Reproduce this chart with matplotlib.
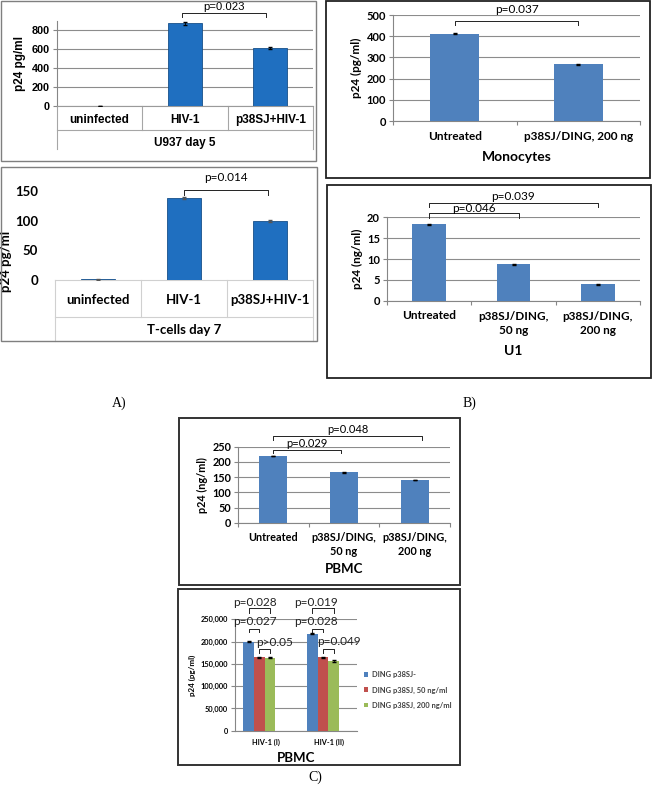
"""
p24 panels: U937 / T-cells (A), monocytes / U1 (B), PBMC (C).
"""

import matplotlib
matplotlib.use("Agg")
import matplotlib.pyplot as plt
from matplotlib.patches import Rectangle
from matplotlib.ticker import FuncFormatter
import numpy as np

W, H = 654, 795

# --- data ---
INFECT_CATS = ["uninfected", "HIV-1", "p38SJ+HIV-1"]
U937_VALS = [3, 870, 612]
U937_ERR = [2, 14, 7]
TCELL_VALS = [1, 138, 99]
TCELL_ERR = [0.5, 1.0, 1.5]

MONO_CATS = ["Untreated", "p38SJ/DING, 200 ng"]
MONO_VALS = [412, 267]
MONO_ERR = [2, 2]

DOSE_CATS = ["Untreated", "p38SJ/DING,\n50 ng", "p38SJ/DING,\n200 ng"]
U1_VALS = [18.3, 8.7, 3.9]
U1_ERR = [0.1, 0.1, 0.1]
PBMC_VALS = [219, 166, 140]
PBMC_ERR = [1.0, 1.0, 1.0]

HIV_CATS = ["HIV-1 (I)", "HIV-1 (II)"]
SERIES = ["DING p38SJ-", "DING p38SJ, 50 ng/ml", "DING p38SJ, 200 ng/ml"]
PBMC_NEG = [200000, 217500]
PBMC_50 = [165000, 165000]
PBMC_200 = [164000, 156500]
PBMC_SER_ERR = [1500, 1500]

DARK_BLUE = "#1f6fc0"
EXCEL_BLUE = "#4f81bd"
EXCEL_RED = "#c0504d"
EXCEL_GREEN = "#9bbb59"
GRID = "#8c8c8c"
ARIAL = "Liberation Sans"
CALIBRI = "Lato"


def px_axes(fig, left, top, right, bottom):
    return fig.add_axes([left / W, 1 - bottom / H, (right - left) / W, (bottom - top) / H])


def box(fig, left, top, right, bottom, color="#333333", lw=1.2):
    fig.add_artist(Rectangle((left / W, 1 - bottom / H), (right - left) / W, (bottom - top) / H,
                             transform=fig.transFigure, fill=False, edgecolor=color, linewidth=lw))


def below(ax, x, dy, text, coords="data", **kw):
    # text centred dy pixels under the x axis
    ax.annotate(text, xy=(x, 0), xycoords=(coords, "axes fraction"),
                xytext=(0, -dy * 0.72), textcoords="offset points",
                ha="center", va="center", annotation_clip=False, **kw)


def bracket(ax, x0, x1, y, drop, label, ly, lx=None, lw=0.7, **kw):
    ax.plot([x0, x0, x1, x1], [y - drop, y, y, y - drop], color="#222222", lw=lw, clip_on=False)
    ax.text((x0 + x1) / 2 if lx is None else lx, ly, label, ha="center", va="center",
            fontweight="normal", clip_on=False, **kw)


def excel_axes(ax, ymax, ystep, grid=True, tick_size=7.5):
    ax.set_ylim(0, ymax)
    ax.set_yticks(np.arange(0, ymax + ystep / 2, ystep))
    for s in ["top", "right"]:
        ax.spines[s].set_visible(False)
    for s in ["left", "bottom"]:
        ax.spines[s].set_color("#868686")
        ax.spines[s].set_linewidth(0.8)
    if grid:
        ax.yaxis.grid(True, color=GRID, linewidth=0.8)
        ax.set_axisbelow(True)
    ax.tick_params(axis="y", length=3, width=0.8, color="#868686", labelsize=tick_size, pad=2)


def main():
    plt.rcParams["font.family"] = [CALIBRI, "DejaVu Sans"]
    plt.rcParams["font.weight"] = "bold"
    plt.rcParams["axes.labelweight"] = "bold"

    fig = plt.figure(figsize=(W / 100, H / 100), dpi=100)
    fig.patch.set_facecolor("white")
    tick_family = {}

    # ---------------- A) U937 ----------------
    box(fig, 1, 1, 316, 161, color="#7f7f7f", lw=1.0)
    ax = px_axes(fig, 57, 20.5, 313, 106)
    tick_family[ax] = ARIAL
    x = np.arange(len(INFECT_CATS))
    ax.bar(x, U937_VALS, 0.4, color=DARK_BLUE, edgecolor="#17508a", linewidth=0.6, zorder=3)
    ax.errorbar(x, U937_VALS, yerr=U937_ERR, fmt="none", ecolor="black", elinewidth=0.6,
                capsize=1.5, zorder=4)
    excel_axes(ax, 900, 200, tick_size=7.8)
    ax.set_yticks([0, 200, 400, 600, 800])
    ax.set_xlim(-0.5, 2.5)
    ax.set_xticks([])
    ax.spines["bottom"].set_color("#9a9a9a")
    tr = ax.get_xaxis_transform()
    for b in [-0.5, 0.5, 1.5, 2.5]:
        low = -0.5 if b in (-0.5, 2.5) else -0.28
        ax.plot([b, b], [0, low], color="#a6a6a6", lw=0.8, transform=tr, clip_on=False)
    ax.plot([-0.5, 2.5], [-0.28, -0.28], color="#a6a6a6", lw=0.8, transform=tr, clip_on=False)
    for i, c in enumerate(INFECT_CATS):
        below(ax, i, 14, c, fontsize=8.5, family=ARIAL)
    below(ax, 0.5, 37, "U937 day 5", coords="axes fraction", fontsize=8.5, family=ARIAL)
    ax.set_ylabel("p24 pg/ml", fontsize=8.5, family=ARIAL, labelpad=4)
    bracket(ax, 0.97, 1.95, 982, 45, "p=0.023", 1045, fontsize=8.2, family=ARIAL)

    # ---------------- A) T-cells ----------------
    box(fig, 1, 167, 317, 341, color="#7f7f7f", lw=1.0)
    ax = px_axes(fig, 55, 185, 313, 280)
    ax.bar(x, TCELL_VALS, 0.4, color=DARK_BLUE, edgecolor="#17508a", linewidth=0.6, zorder=3)
    ax.errorbar(x, TCELL_VALS, yerr=TCELL_ERR, fmt="none", ecolor="#555555", elinewidth=0.6,
                capsize=1.5, zorder=4)
    excel_axes(ax, 160, 50, grid=False, tick_size=9.5)
    ax.set_yticks([0, 50, 100, 150])
    ax.tick_params(axis="y", length=0, pad=12)
    ax.spines["left"].set_visible(False)
    ax.spines["bottom"].set_color("#d0d0d0")
    ax.set_xlim(-0.5, 2.5)
    ax.set_xticks([])
    tr = ax.get_xaxis_transform()
    for b in [-0.5, 0.5, 1.5, 2.5]:
        low = -0.64 if b in (-0.5, 2.5) else -0.39
        ax.plot([b, b], [0, low], color="#d0d0d0", lw=0.8, transform=tr, clip_on=False)
    ax.plot([-0.5, 2.5], [-0.39, -0.39], color="#d0d0d0", lw=0.8, transform=tr, clip_on=False)
    for i, c in enumerate(INFECT_CATS):
        below(ax, i, 20, c, fontsize=9.5)
    below(ax, 0.5, 50, "T-cells day 7", coords="axes fraction", fontsize=9.5)
    ax.set_ylabel("p24 pg/ml", fontsize=9.5, labelpad=6)
    ax.yaxis.set_label_coords(-0.165, 0.2)
    bracket(ax, 1.0, 1.98, 152, 8, "p=0.014", 172, fontsize=8.5)

    # ---------------- B) Monocytes ----------------
    box(fig, 326, 1, 650, 178, color="#222222", lw=1.3)
    ax = px_axes(fig, 393, 15, 640, 121)
    xm = np.arange(len(MONO_CATS))
    ax.bar(xm, MONO_VALS, 0.4, color=EXCEL_BLUE, zorder=3)
    ax.errorbar(xm, MONO_VALS, yerr=MONO_ERR, fmt="none", ecolor="black", elinewidth=0.6,
                capsize=1.5, zorder=4)
    excel_axes(ax, 500, 100, tick_size=8)
    ax.set_xlim(-0.5, 1.5)
    ax.set_xticks([-0.5, 0.5, 1.5])
    ax.set_xticklabels([])
    ax.tick_params(axis="x", length=3, width=0.8, color="#868686")
    for i, c in enumerate(MONO_CATS):
        below(ax, i, 16, c, fontsize=8.5)
    below(ax, 0.5, 36, "Monocytes", coords="axes fraction", fontsize=10)
    ax.set_ylabel("p24 (pg/ml)", fontsize=8.5, labelpad=3)
    bracket(ax, 0.0, 1.0, 473, 20, "p=0.037", 524, fontsize=8.5)

    # ---------------- B) U1 ----------------
    box(fig, 327, 185, 651, 378, color="#222222", lw=1.3)
    ax = px_axes(fig, 387, 217.3, 640, 300.7)
    xd = np.arange(len(DOSE_CATS))
    ax.bar(xd, U1_VALS, 0.4, color=EXCEL_BLUE, zorder=3)
    ax.errorbar(xd, U1_VALS, yerr=U1_ERR, fmt="none", ecolor="black", elinewidth=0.6,
                capsize=1.5, zorder=4)
    excel_axes(ax, 20, 5, tick_size=8)
    ax.set_xlim(-0.5, 2.5)
    ax.set_xticks([-0.5, 0.5, 1.5, 2.5])
    ax.set_xticklabels([])
    ax.tick_params(axis="x", length=3, width=0.8, color="#868686")
    below(ax, 0, 14.5, DOSE_CATS[0], fontsize=8.5)
    for i in (1, 2):
        below(ax, i, 23, DOSE_CATS[i], fontsize=8.5, linespacing=1.3)
    below(ax, 0.5, 50, "U1", coords="axes fraction", fontsize=10)
    ax.set_ylabel("p24 (ng/ml)", fontsize=8.5, labelpad=3)
    bracket(ax, 0.0, 1.06, 21.0, 1.2, "p=0.046", 22.2, fontsize=8.5)
    bracket(ax, 0.0, 2.0, 23.5, 1.0, "p=0.039", 24.9, fontsize=8.5)

    # ---------------- C) PBMC doses ----------------
    box(fig, 179, 418, 460, 585, color="#333333", lw=1.4)
    ax = px_axes(fig, 238, 446.7, 450, 522.7)
    ax.bar(xd, PBMC_VALS, 0.4, color=EXCEL_BLUE, zorder=3)
    ax.errorbar(xd, PBMC_VALS, yerr=PBMC_ERR, fmt="none", ecolor="black", elinewidth=0.6,
                capsize=1.5, zorder=4)
    excel_axes(ax, 250, 50, tick_size=7.8)
    ax.set_xlim(-0.5, 2.5)
    ax.set_xticks([-0.5, 0.5, 1.5, 2.5])
    ax.set_xticklabels([])
    ax.tick_params(axis="x", length=3, width=0.8, color="#868686")
    below(ax, 0, 14.5, DOSE_CATS[0], fontsize=7.8)
    for i in (1, 2):
        below(ax, i, 22, DOSE_CATS[i], fontsize=7.8, linespacing=1.3)
    below(ax, 0.5, 46, "PBMC", coords="axes fraction", fontsize=9.5)
    ax.set_ylabel("p24 (ng/ml)", fontsize=7.8, labelpad=3)
    bracket(ax, 0.0, 0.96, 239, 10, "p=0.029", 262, fontsize=8)
    bracket(ax, 0.0, 2.1, 285, 14, "p=0.048", 305, fontsize=8)

    # ---------------- C) PBMC HIV-1 isolates ----------------
    box(fig, 178, 589, 460, 765, color="#333333", lw=1.4)
    ax = px_axes(fig, 235, 619.3, 357, 730.7)
    xh = np.arange(len(HIV_CATS))
    bw = 0.168
    colors = [EXCEL_BLUE, EXCEL_RED, EXCEL_GREEN]
    for k, (vals, col) in enumerate(zip([PBMC_NEG, PBMC_50, PBMC_200], colors)):
        xs = xh + (k - 1) * bw
        ax.bar(xs, vals, bw, color=col, label=SERIES[k], zorder=3)
        ax.errorbar(xs, vals, yerr=PBMC_SER_ERR, fmt="none", ecolor="black", elinewidth=0.5,
                    capsize=1.2, zorder=4)
    excel_axes(ax, 250000, 50000, tick_size=5.3)
    ax.yaxis.set_major_formatter(FuncFormatter(lambda v, p: f"{v:,.0f}"))
    ax.set_xlim(-0.38, 1.535)
    ax.set_xticks([])
    for i, c in enumerate(HIV_CATS):
        below(ax, i + 0.1, 12, c, fontsize=5.3)
    below(ax, 0.5, 27, "PBMC", coords="axes fraction", fontsize=9.5)
    ax.set_ylabel("p24 (pg/ml)", fontsize=5.8, labelpad=3)
    pk = dict(fontsize=8.5, color="#222222")
    bracket(ax, -bw, bw, 275000, 11000, "p=0.028", 286600, lx=-0.07, **pk)
    bracket(ax, -bw, 0, 228000, 6500, "p=0.027", 244000, lx=-0.07, **pk)
    bracket(ax, 0, bw, 183000, 9000, "p>0.05", 197000, lx=0.24, **pk)
    bracket(ax, 1 - bw, 1 + bw, 275000, 11000, "p=0.019", 286600, lx=0.89, **pk)
    bracket(ax, 1 - bw, 1, 228000, 6500, "p=0.028", 244000, lx=0.89, **pk)
    bracket(ax, 1, 1 + bw, 183000, 9000, "p=0.049", 201000, lx=1.25, **pk)
    leg = ax.legend(loc="center left", bbox_to_anchor=(357 / W, 1 - 690 / H),
                    bbox_transform=fig.transFigure, frameon=False,
                    prop={"family": CALIBRI, "weight": "bold", "size": 5.4},
                    handlelength=0.6, handleheight=0.6, handletextpad=0.5, labelspacing=1.1)
    for t in leg.get_texts():
        t.set_color("#404040")

    # panel letters
    serif = dict(family="Liberation Serif", fontweight="normal", fontsize=10,
                 ha="center", va="center")
    fig.text(119 / W, 1 - 403 / H, "A)", **serif)
    fig.text(469 / W, 1 - 403 / H, "B)", **serif)
    fig.text(315 / W, 1 - 777 / H, "C)", **serif)

    # force bold tick labels once the tick text exists
    fig.canvas.draw()
    for a in fig.axes:
        fam = tick_family.get(a, CALIBRI)
        for lab in a.get_yticklabels():
            lab.set_fontweight("bold")
            lab.set_fontfamily(fam)

    fig.savefig("out.png", dpi=100)
    plt.close(fig)


if __name__ == "__main__":
    main()
